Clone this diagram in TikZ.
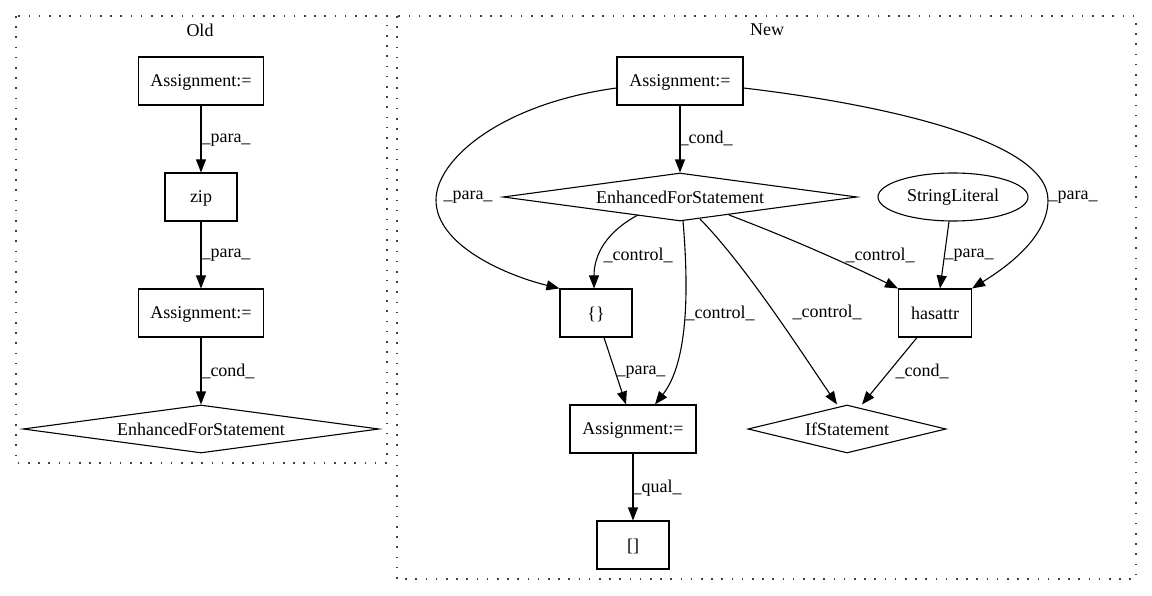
\documentclass[tikz,border=0pt]{standalone}
\usepackage{fontspec}
\setmainfont{Liberation Serif}
\usetikzlibrary{shapes.geometric,arrows.meta}
\begin{document}
\begin{tikzpicture}[x=1pt,y=-1pt,
  font=\fontsize{18}{21}\selectfont,
  every node/.style={inner sep=0pt},
  cluster/.style={draw=black!75,line width=1.4pt,dash pattern=on 1.6pt off 8.6pt},
  box/.style={draw,line width=1.1pt,minimum height=48pt,text depth=0pt},
  dia/.style={draw,line width=1.1pt,diamond,shape aspect=7},
  ell/.style={draw,line width=1.1pt,ellipse,minimum width=150pt,minimum height=48pt},
  lbl/.style={},
  edge/.style={line width=1.1pt,-{Triangle[length=13pt,width=10pt]}}]
\useasboundingbox (0,0) rectangle (1152,596);
\fill[white] (0,0) rectangle (1152,596);
% clusters
\draw[cluster] (16,16) rectangle (387,463);
\draw[cluster] (397,16) rectangle (1136,579);
\node (told) at (200,30) {Old};
\node (tnew) at (767,30) {New};
% Old
\node[box,minimum width=125pt] (oa1) at (201,81) {Assignment:=};
\node[box,minimum width=72pt] (zip) at (201,197) {zip};
\node[box,minimum width=125pt] (oa2) at (201,313) {Assignment:=};
\node[dia,minimum width=356pt,minimum height=48pt] (oefs) at (201,429) {EnhancedForStatement};
\draw[edge] (oa1) -- (zip);
\draw[edge] (zip) -- (oa2);
\draw[edge] (oa2) -- (oefs);
\node[lbl] (ol1) at (226,140) {\_para\_};
\node[lbl] (ol2) at (226,255) {\_para\_};
\node[lbl] (ol3) at (228,371) {\_cond\_};
% New
\node[box,minimum width=126pt] (na1) at (680,81) {Assignment:=};
\node[dia,minimum width=354pt,minimum height=48pt] (nefs) at (680,197) {EnhancedForStatement};
\node[ell] (str) at (953,197) {StringLiteral};
\node[box,minimum width=72pt] (brace) at (596,313) {\{\}};
\node[box,minimum width=73pt] (has) at (935,313) {hasattr};
\node[box,minimum width=126pt] (na2) at (633,429) {Assignment:=};
\node[dia,minimum width=198pt,minimum height=48pt,shape aspect=4] (ifs) at (847,429) {IfStatement};
\node[box,minimum width=72pt] (brk) at (633,545) {[]};
% edges
\draw[edge] (na1) -- (nefs);
\draw[edge] (na1.west |- 0,88) .. controls (500,104) and (436,160) .. (436,200)
  .. controls (436,245) and (505,275) .. (brace.north west);
\draw[edge] (na1.east |- 0,88) .. controls (880,104) and (1048,140) .. (1048,200)
  .. controls (1048,238) and (1005,268) .. (has.north east);
\draw[edge] (638,215) .. controls (606,232) and (594,255) .. (brace.north -| 594,0);
\draw[edge] (683,221) .. controls (688,280) and (690,360) .. (na2.north -| 655,0);
\draw[edge] (700,219) .. controls (745,265) and (800,350) .. (ifs.north -| 837,0);
\draw[edge] (729,215) .. controls (790,238) and (850,265) .. (has.north west);
\draw[edge] (str.south -| 949,0) -- (has.north -| 940,0);
\draw[edge] (has.south -| 917,0) -- (ifs.north -| 862,0);
\draw[edge] (brace.south -| 604,0) -- (na2.north -| 626,0);
\draw[edge] (na2) -- (brk);
% labels
\node[lbl] (nl1) at (706,138) {\_cond\_};
\node[lbl] (nl2) at (468,197) {\_para\_};
\node[lbl] (nl3) at (638,255) {\_control\_};
\node[lbl] (nl4) at (720,313) {\_control\_};
\node[lbl] (nl5) at (827,312) {\_control\_};
\node[lbl] (nl6) at (880,255) {\_control\_};
\node[lbl] (nl7) at (969,255) {\_para\_};
\node[lbl] (nl8) at (1073,197) {\_para\_};
\node[lbl] (nl9) at (922,371) {\_cond\_};
\node[lbl] (nl10) at (641,372) {\_para\_};
\node[lbl] (nl11) at (657,488) {\_qual\_};
\end{tikzpicture}
\end{document}
